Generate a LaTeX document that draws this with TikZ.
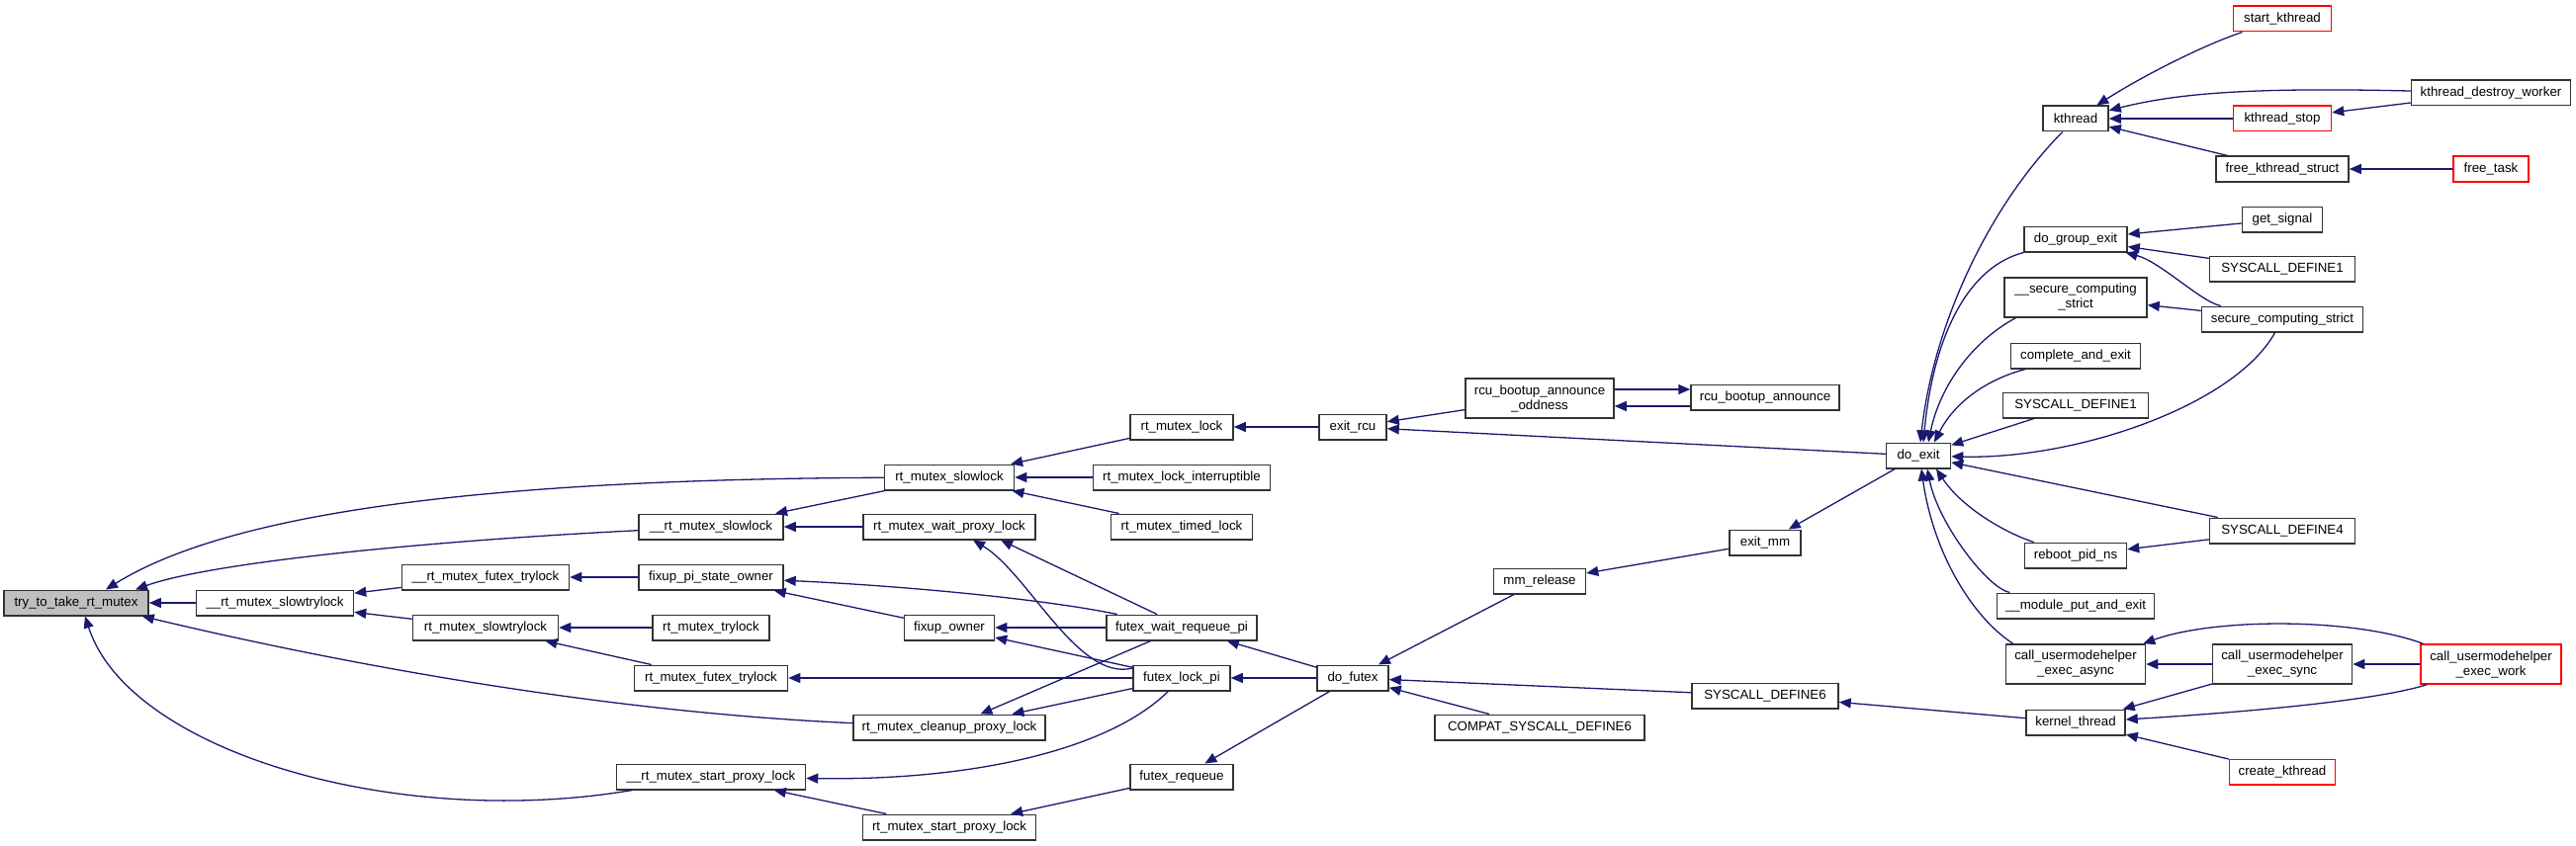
\documentclass[tikz,border=0pt]{standalone}
\usepackage{fontspec}
\setmainfont{Liberation Sans}
\usetikzlibrary{arrows.meta}
\definecolor{mb}{RGB}{25,25,112}
\definecolor{hlgray}{RGB}{191,191,191}
\newcommand\fnfont{\fontsize{13.3}{15}\selectfont}
\tikzset{
  fn/.style={draw=black!80, line width=1.5pt, fill=white, inner sep=0pt,
    minimum height=25.5pt, font=\fnfont, align=center, text=black},
  two/.style={minimum height=40pt},
  hl/.style={fill=hlgray},
  redbox/.style={draw=red},
  calls/.style={draw=mb, line width=1.3pt, {Triangle[length=12pt,width=10pt]}-},
}
\begin{document}
\begin{tikzpicture}[x=1pt,y=-1pt]
\useasboundingbox (0,0) rectangle (2605,856);
% column 1-4
\node[fn,hl,minimum width=146pt] (try) at (77,610) {try\_to\_take\_rt\_mutex};
\node[fn,minimum width=159pt] (sltry_) at (278,610) {\_\_rt\_mutex\_slowtrylock};
\node[fn,minimum width=169pt] (ftry_) at (491,584) {\_\_rt\_mutex\_futex\_trylock};
\node[fn,minimum width=147pt] (sltry) at (491,635) {rt\_mutex\_slowtrylock};
\node[fn,minimum width=146pt] (sl_) at (719,533) {\_\_rt\_mutex\_slowlock};
\node[fn,minimum width=146pt] (fpso) at (719,584) {fixup\_pi\_state\_owner};
\node[fn,minimum width=118pt] (trylk) at (719,635) {rt\_mutex\_trylock};
\node[fn,minimum width=155pt] (ftry) at (719,686) {rt\_mutex\_futex\_trylock};
\node[fn,minimum width=191pt] (sp_) at (719,786) {\_\_rt\_mutex\_start\_proxy\_lock};
% column 5
\node[fn,minimum width=131pt] (sl) at (960,483) {rt\_mutex\_slowlock};
\node[fn,minimum width=174pt] (wpl) at (960,533) {rt\_mutex\_wait\_proxy\_lock};
\node[fn,minimum width=91pt] (fo) at (960,635) {fixup\_owner};
\node[fn,minimum width=194pt] (cpl) at (960,736) {rt\_mutex\_cleanup\_proxy\_lock};
\node[fn,minimum width=175pt] (sp) at (960,837) {rt\_mutex\_start\_proxy\_lock};
% column 6
\node[fn,minimum width=104pt] (lk) at (1195,432) {rt\_mutex\_lock};
\node[fn,minimum width=179pt] (lki) at (1195,483) {rt\_mutex\_lock\_interruptible};
\node[fn,minimum width=143pt] (tl) at (1195,533) {rt\_mutex\_timed\_lock};
\node[fn,minimum width=152pt] (fwrp) at (1195,635) {futex\_wait\_requeue\_pi};
\node[fn,minimum width=98pt] (flp) at (1195,686) {futex\_lock\_pi};
\node[fn,minimum width=104pt] (freq) at (1195,786) {futex\_requeue};
% column 7-8
\node[fn,minimum width=68pt] (ercu) at (1368,432) {exit\_rcu};
\node[fn,minimum width=72pt] (dof) at (1368,686) {do\_futex};
\node[fn,two,minimum width=150pt] (odd) at (1557,403) {rcu\_bootup\_announce\\\_oddness};
\node[fn,minimum width=93pt] (mmr) at (1557,588) {mm\_release};
\node[fn,minimum width=212pt] (compat) at (1557,736) {COMPAT\_SYSCALL\_DEFINE6};
% column 9-10
\node[fn,minimum width=150pt] (ann) at (1785,402) {rcu\_bootup\_announce};
\node[fn,minimum width=72pt] (emm) at (1785,549) {exit\_mm};
\node[fn,minimum width=148pt] (sd6) at (1785,704) {SYSCALL\_DEFINE6};
\node[fn,minimum width=65pt] (dex) at (1940,461) {do\_exit};
% column 11
\node[fn,minimum width=66pt] (kth) at (2099,120) {kthread};
\node[fn,minimum width=104pt] (dge) at (2099,242) {do\_group\_exit};
\node[fn,two,minimum width=144pt] (scs_) at (2099,301) {\_\_secure\_computing\\\_strict};
\node[fn,minimum width=131pt] (cae) at (2099,360) {complete\_and\_exit};
\node[fn,minimum width=147pt] (sd1b) at (2099,410) {SYSCALL\_DEFINE1};
\node[fn,minimum width=103pt] (rpn) at (2099,562) {reboot\_pid\_ns};
\node[fn,minimum width=159pt] (mpe) at (2099,613) {\_\_module\_put\_and\_exit};
\node[fn,two,minimum width=141pt] (cua) at (2099,672) {call\_usermodehelper\\\_exec\_async};
\node[fn,minimum width=100pt] (kt) at (2099,731) {kernel\_thread};
% column 12
\node[fn,redbox,minimum width=99pt] (stk) at (2308,19) {start\_kthread};
\node[fn,redbox,minimum width=99pt] (kst) at (2308,120) {kthread\_stop};
\node[fn,minimum width=134pt] (fks) at (2308,171) {free\_kthread\_struct};
\node[fn,minimum width=81pt] (gs) at (2308,222) {get\_signal};
\node[fn,minimum width=147pt] (sd1a) at (2308,272) {SYSCALL\_DEFINE1};
\node[fn,minimum width=163pt] (scs) at (2308,323) {secure\_computing\_strict};
\node[fn,minimum width=147pt] (sd4) at (2308,537) {SYSCALL\_DEFINE4};
\node[fn,two,minimum width=141pt] (cus) at (2308,672) {call\_usermodehelper\\\_exec\_sync};
\node[fn,redbox,minimum width=107pt] (ck) at (2308,781) {create\_kthread};
% column 13
\node[fn,minimum width=161pt] (kdw) at (2519,94) {kthread\_destroy\_worker};
\node[fn,redbox,minimum width=76pt] (ft) at (2519,171) {free\_task};
\node[fn,two,redbox,minimum width=142pt] (cuw) at (2519,672) {call\_usermodehelper\\\_exec\_work};

% edges (arrow at callee)
\draw[calls] ([xshift=30pt]try.north) .. controls (230,520) and (480,485) .. (sl);
\draw[calls] ([xshift=60pt]try.north) .. controls (210,570) and (420,548) .. (sl_);
\draw[calls] (try) -- (sltry_);
\draw[calls] ([xshift=-7pt]try.south east) .. controls (330,668) and (600,720) .. (cpl);
\draw[calls] ([xshift=9pt]try.south) .. controls (130,760) and (400,840) .. (sp_);
\draw[calls] (sltry_) -- (ftry_);
\draw[calls] (sltry_) -- (sltry);
\draw[calls] (ftry_) -- (fpso);
\draw[calls] (sltry) -- (trylk);
\draw[calls] (sltry) -- (ftry);
\draw[calls] (sl_) -- (sl);
\draw[calls] (sl_) -- (wpl);
\draw[calls] (sl) -- (lk);
\draw[calls] (sl) -- (lki);
\draw[calls] (sl) -- (tl);
\draw[calls] (lk) -- (ercu);
\draw[calls] (ercu) -- (odd);
\draw[calls] (ercu) -- (dex);
\draw[calls] ([yshift=8pt]ann.west) -- ([yshift=9pt]odd.east);
\draw[calls] ([yshift=-8pt]odd.east) -- ([yshift=-9pt]ann.west);
\draw[calls] (fpso) .. controls (900,592) and (1050,605) .. (fwrp);
\draw[calls] (fpso) -- (fo);
\draw[calls] (ftry) -- (flp);
\draw[calls] ([xshift=24pt]wpl.south) .. controls (1040,580) and (1090,690) .. ([yshift=10pt]flp.west);
\draw[calls] ([xshift=52pt]wpl.south) -- ([xshift=-25pt]fwrp.north);
\draw[calls] (fo) -- (fwrp);
\draw[calls] (fo) -- (flp);
\draw[calls] (cpl) -- (fwrp);
\draw[calls] (cpl) -- (flp);
\draw[calls] (sp_) .. controls (980,790) and (1120,760) .. (flp);
\draw[calls] (sp_) -- (sp);
\draw[calls] (sp) -- (freq);
\draw[calls] (fwrp) -- (dof);
\draw[calls] (flp) -- (dof);
\draw[calls] (freq) -- (dof);
\draw[calls] (dof) -- (mmr);
\draw[calls] (dof) -- (sd6);
\draw[calls] (dof) -- (compat);
\draw[calls] (mmr) -- (emm);
\draw[calls] (emm) -- (dex);
\draw[calls] (sd6) -- (kt);
\draw[calls] ([xshift=2pt]dex.north) .. controls (1955,330) and (2010,210) .. (kth);
\draw[calls] ([xshift=5pt]dex.north) .. controls (1955,340) and (1990,270) .. (dge);
\draw[calls] ([xshift=10pt]dex.north) .. controls (1962,390) and (1995,345) .. ([xshift=12pt]scs_.south west);
\draw[calls] ([xshift=16pt]dex.north) .. controls (1975,410) and (2005,385) .. (cae);
\draw[calls] (dex) -- (sd1b);
\draw[calls] (dex) .. controls (2100,465) and (2260,410) .. (scs);
\draw[calls] (dex) -- (sd4);
\draw[calls] ([xshift=18pt]dex.south) .. controls (1985,515) and (2030,540) .. (rpn);
\draw[calls] ([xshift=9pt]dex.south) .. controls (1960,530) and (2010,595) .. (mpe);
\draw[calls] ([xshift=3pt]dex.south) .. controls (1955,560) and (1995,625) .. ([xshift=8pt]cua.north west);
\draw[calls] (kth) .. controls (2170,75) and (2230,45) .. (stk);
\draw[calls] (kth) .. controls (2200,95) and (2270,88) .. (kdw);
\draw[calls] (kth) -- (kst);
\draw[calls] (kth) -- (fks);
\draw[calls] (kst) -- (kdw);
\draw[calls] (fks) -- (ft);
\draw[calls] (dge) -- (gs);
\draw[calls] (dge) -- (sd1a);
\draw[calls] (dge) .. controls (2185,265) and (2225,305) .. (scs);
\draw[calls] (scs_) -- (scs);
\draw[calls] (rpn) -- (sd4);
\draw[calls] (cua) -- (cus);
\draw[calls] ([xshift=-3pt]cua.north east) .. controls (2240,625) and (2380,625) .. ([xshift=3pt]cuw.north west);
\draw[calls] (cus) -- (cuw);
\draw[calls] (kt) -- (cus);
\draw[calls] (kt) .. controls (2250,722) and (2400,710) .. (cuw);
\draw[calls] (kt) -- (ck);
\end{tikzpicture}
\end{document}
